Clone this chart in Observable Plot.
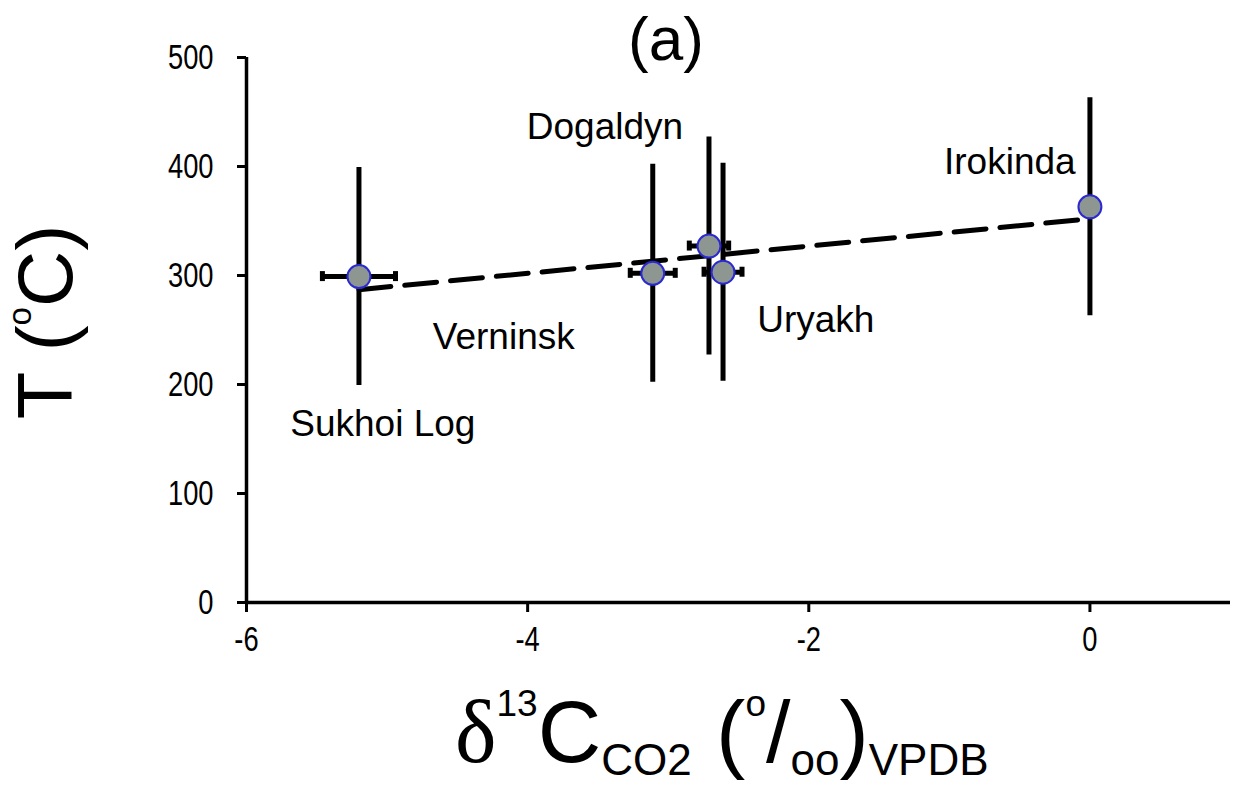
<!DOCTYPE html>
<html>
<head>
<meta charset="utf-8">
<script src="https://cdn.jsdelivr.net/npm/d3@7"></script>
<script src="https://cdn.jsdelivr.net/npm/@observablehq/plot@0.6"></script>
<style>
  html, body { margin: 0; padding: 0; background: #fff; }
  #chart { width: 1233px; height: 785px; }
</style>
</head>
<body>
<div id="chart"></div>
<script>
// ---- data ----
const sites   = ["Sukhoi Log", "Verninsk", "Dogaldyn", "Uryakh", "Irokinda"];
const d13C    = [-5.2, -3.11, -2.71, -2.61, 0.0];
const d13CErr = [0.26, 0.16, 0.14, 0.135, 0];
const temp    = [299, 302, 327, 303, 363];
const tempErr = [100, 100, 100, 100, 100];
const labelX  = [-5.03, -4.17, -3.45, -1.95, -0.57];
const labelY  = [164, 243, 436, 259, 404];
const fitX    = [-5.2, 0];
const fitY    = [287, 352];
const xTicks  = [-6, -4, -2, 0];
const yTicks  = [0, 100, 200, 300, 400, 500];

const pts = sites.map((s, i) => ({site: s, x: d13C[i], xe: d13CErr[i], t: temp[i], te: tempErr[i]}));
const hbars = pts.filter(d => d.xe > 0);
const labels = sites.map((s, i) => ({site: s, x: labelX[i], y: labelY[i]}));
const fit = fitX.map((x, i) => ({x, y: fitY[i]}));

const chart = Plot.plot({
  width: 1233,
  height: 785,
  marginLeft: 246,
  marginRight: 3,
  marginTop: 57,
  marginBottom: 183,
  x: {domain: [-6, 1]},
  y: {domain: [0, 500]},
  style: {fontFamily: "'Liberation Sans', Arial, sans-serif", fontSize: "35px", color: "#000", background: "#fff"},
  marks: [
    // axes
    Plot.axisX(xTicks, {tickSize: 10, tickPadding: 14, strokeWidth: 3, fontSize: 35, label: null, tickFormat: d => String(d)}),
    Plot.axisY(yTicks, {tickSize: 9, tickPadding: 24, strokeWidth: 3, fontSize: 35, label: null, tickFormat: d => String(d)}),
    Plot.ruleY([0], {stroke: "#000", strokeWidth: 3.5}),
    Plot.ruleX([-6], {y1: 0, y2: 500, stroke: "#000", strokeWidth: 3.5}),
    // vertical error bars
    Plot.ruleX(pts, {x: "x", y1: d => d.t - d.te, y2: d => d.t + d.te, stroke: "#000", strokeWidth: 5}),
    // horizontal error bars
    Plot.ruleY(hbars, {y: "t", x1: d => d.x - d.xe, x2: d => d.x + d.xe, stroke: "#000", strokeWidth: 5}),
    Plot.ruleX(hbars, {x: d => d.x - d.xe, y1: "t", y2: "t", insetTop: -5, insetBottom: -5, stroke: "#000", strokeWidth: 5}),
    Plot.ruleX(hbars, {x: d => d.x + d.xe, y1: "t", y2: "t", insetTop: -5, insetBottom: -5, stroke: "#000", strokeWidth: 5}),
    // trend line
    Plot.line(fit, {x: "x", y: "y", stroke: "#000", strokeWidth: 5, strokeDasharray: "32,14"}),
    // points
    Plot.dot(pts, {x: "x", y: "t", r: 11.5, fill: "#8d9690", stroke: "#2a2ad0", strokeWidth: 2}),
    // site labels
    Plot.text(labels, {x: "x", y: "y", text: "site", fontSize: 37, fill: "#000"})
  ]
});

const svg = d3.select(chart);

// narrow tick-label glyphs as in the reference (scale about each label's own anchor)
function squeeze(sel, s) {
  sel.each(function () {
    const t = this.getAttribute("transform") || "";
    const xa = this.getAttribute("x");
    if (xa !== null && !isNaN(+xa)) this.setAttribute("x", +xa / s);
    this.setAttribute("transform", `${t} scale(${s},1)`);
  });
}
squeeze(svg.selectAll('g[aria-label="x-axis tick label"] text, g[aria-label="y-axis tick label"] text'), 0.78);

const SANS = "'Liberation Sans', Arial, sans-serif";

// title
svg.append("text")
  .attr("x", 666).attr("y", 60)
  .attr("text-anchor", "middle")
  .attr("font-family", SANS)
  .attr("font-size", 62).attr("fill", "#000")
  .text("(a)");

// y-axis label  T (°C)
const yl = svg.append("text")
  .attr("transform", "translate(72,322) rotate(-90)")
  .attr("text-anchor", "middle")
  .attr("font-family", SANS)
  .attr("font-size", 78).attr("fill", "#000");
yl.append("tspan").text("T (");
yl.append("tspan").attr("font-size", 33).attr("dy", -41).text("o");
yl.append("tspan").attr("dy", 41).text("C)");

// x-axis label  δ13C CO2 (o/oo) VPDB
const xl = svg.append("text")
  .attr("x", 455).attr("y", 762)
  .attr("text-anchor", "start")
  .attr("font-family", SANS)
  .attr("font-size", 88).attr("fill", "#000");
xl.append("tspan").attr("font-family", "'Liberation Serif', 'Times New Roman', serif").text("δ");
xl.append("tspan").attr("font-size", 37).attr("dy", -46).text("13");
xl.append("tspan").attr("dy", 46).text("C");
xl.append("tspan").attr("font-size", 44).attr("dy", 13).text("CO2");
xl.append("tspan").attr("dy", -13).text("\u00a0(");
xl.append("tspan").attr("font-size", 37).attr("dy", -46).text("o");
xl.append("tspan").attr("dy", 46).text("/");
xl.append("tspan").attr("font-size", 44).attr("dy", 13).text("oo");
xl.append("tspan").attr("dy", -13).text(")");
xl.append("tspan").attr("font-size", 44).attr("dy", 13).text("VPDB");

document.getElementById("chart").appendChild(chart);
</script>
</body>
</html>
